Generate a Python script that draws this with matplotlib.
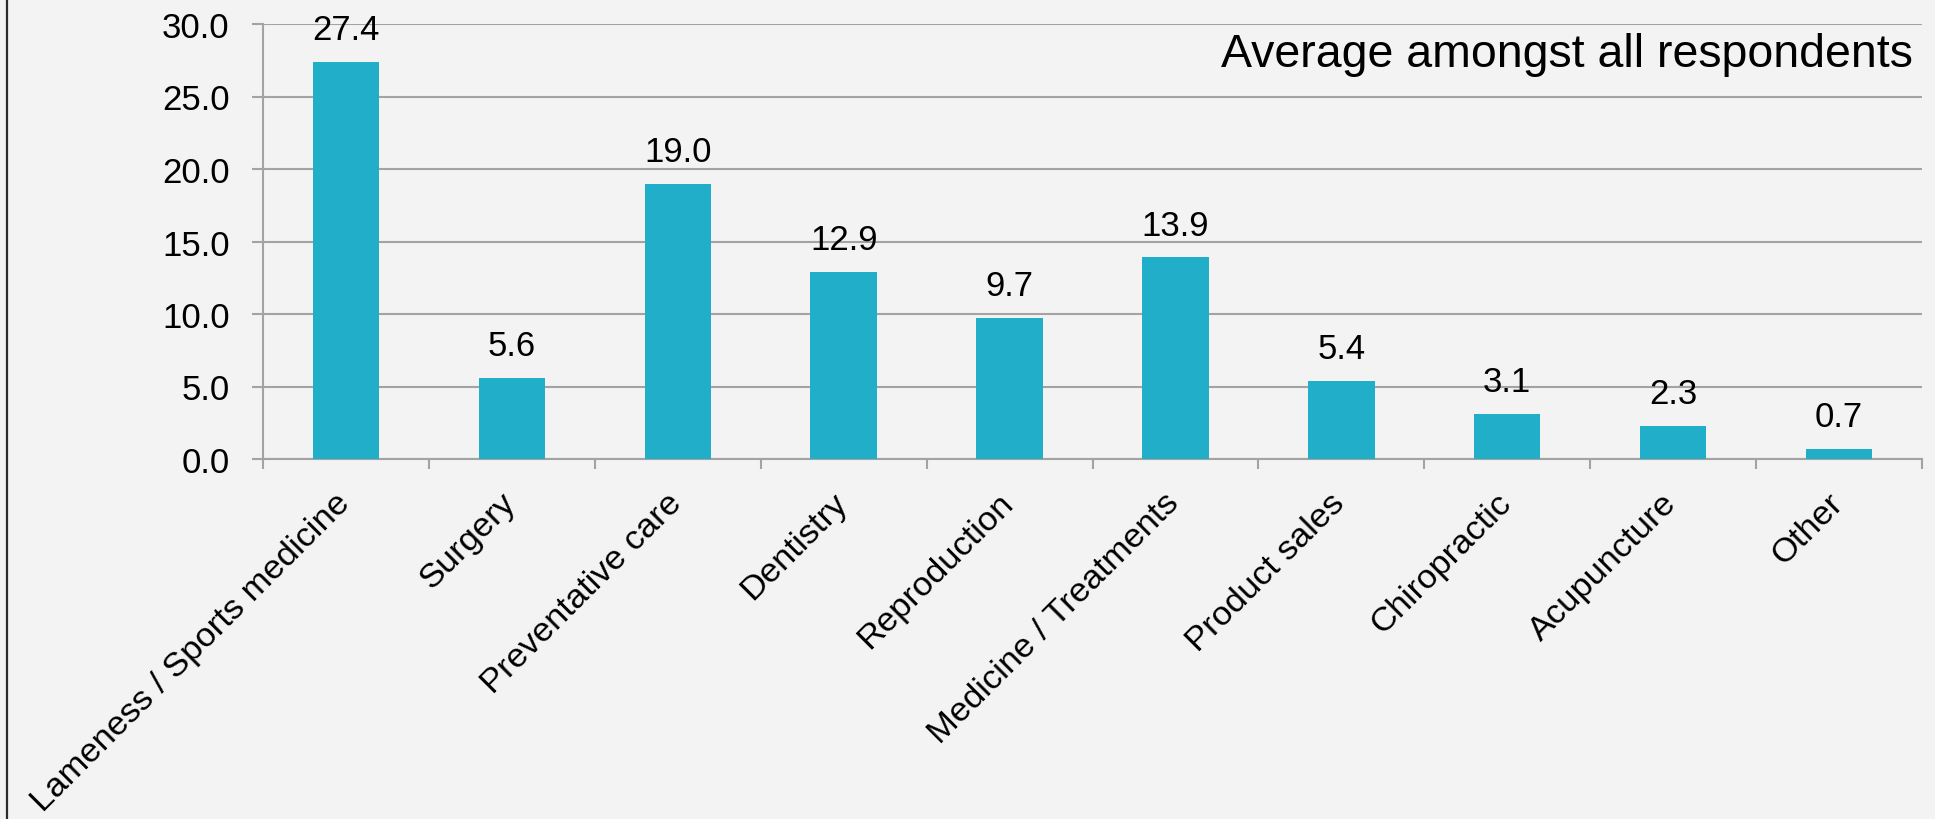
import matplotlib.pyplot as plt
import matplotlib.transforms as mtransforms
from matplotlib.lines import Line2D
import numpy as np

# Chart data
categories = ["Lameness / Sports medicine", "Surgery", "Preventative care", "Dentistry",
              "Reproduction", "Medicine / Treatments", "Product sales", "Chiropractic",
              "Acupuncture", "Other"]
values = [27.4, 5.6, 19.0, 12.9, 9.7, 13.9, 5.4, 3.1, 2.3, 0.7]
y_ticks = [0, 5, 10, 15, 20, 25, 30]
note = "Average amongst all respondents"

bg = "#f3f3f3"
bar_color = "#20aec9"
grid_color = "#a3a3a3"

plt.rcParams['font.family'] = ['Liberation Sans', 'DejaVu Sans']

fig = plt.figure(figsize=(19.35, 8.2), dpi=100, facecolor=bg)
ax = fig.add_axes([263/1935, 1-460/820, 1659/1935, 435/820])
ax.set_facecolor(bg)

x = np.arange(len(categories))
ax.bar(x, values, width=0.40, color=bar_color, zorder=3)

# value labels above each bar
for xi, v in zip(x, values):
    ax.annotate(f"{v:.1f}", (xi, v), xytext=(0, 16.5), textcoords="offset points",
                ha="center", va="baseline", fontsize=25, color="black")

ax.set_xlim(-0.5, len(categories) - 0.5)
ax.set_ylim(0, 30)
ax.set_yticks(y_ticks)
ax.set_yticklabels([f"{t:.1f}" for t in y_ticks])
ax.yaxis.grid(True, color=grid_color, linewidth=1.5, zorder=0)
ax.tick_params(axis="y", length=8, width=1.5, color=grid_color, pad=16, labelsize=25)

# category labels at centers, tick marks at the boundaries
ax.set_xticks(x)
ax.set_xticklabels(categories, rotation=45, ha="right", va="top", fontsize=24.8)
ax.tick_params(axis="x", which="major", length=0, pad=20)
ax.set_xticks(np.arange(-0.5, len(categories)), minor=True)
ax.tick_params(axis="x", which="minor", length=7.5, width=1.5, color=grid_color)
offset = mtransforms.ScaledTranslation(0.10, 0, fig.dpi_scale_trans)
for lbl in ax.get_xticklabels():
    lbl.set_transform(lbl.get_transform() + offset)

for side in ["top", "right"]:
    ax.spines[side].set_visible(False)
for side in ["left", "bottom"]:
    ax.spines[side].set_color(grid_color)
    ax.spines[side].set_linewidth(1.5)

ax.text(0.9946, 0.9034, note, transform=ax.transAxes, ha="right", va="baseline",
        fontsize=33.5, color="black")

# frame line at the left edge of the picture
fig.add_artist(Line2D([7/1935, 7/1935], [0, 1], color="#2b2b2b", linewidth=1.6))

fig.savefig("out.png", dpi=100, facecolor=bg)
